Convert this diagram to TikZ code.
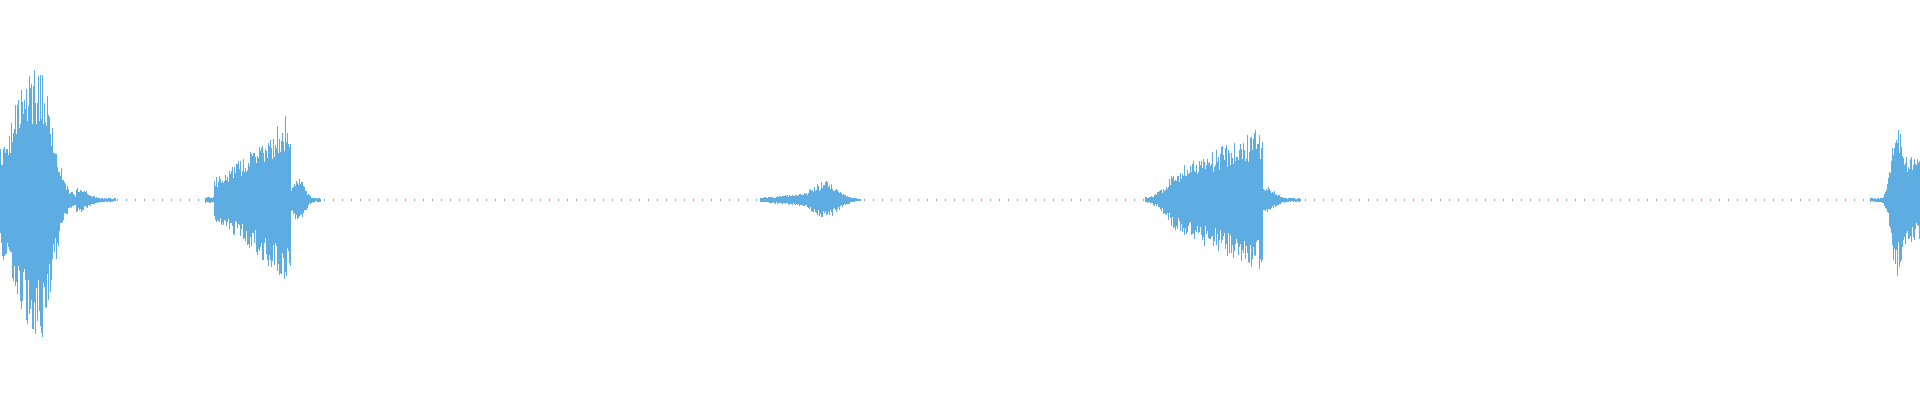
\documentclass[tikz,border=0pt]{standalone}
\definecolor{wave}{RGB}{93,173,226}
\begin{document}
\begin{tikzpicture}[x=0.5pt,y=0.5pt,wl/.style={draw=wave,line width=0.4pt}]
\useasboundingbox (0,0) rectangle (1920,400);
\pgfmathsetseed{7}
\newcommand\wline[2]{\pgfmathsetmacro\ra{#2*(0.55+0.45*rnd)}\pgfmathsetmacro\rb{#2*(0.55+0.45*rnd)}\draw[wl] (#1,200-\rb) -- (#1,200+\ra);}
% baseline noise
\foreach \x in {0,9,...,1920}{\draw[wl] (\x,199.3) -- (\x,200.7);}
% burst 1
\foreach \x in {0,...,75}{
  \pgfmathsetmacro\a{\x<40 ? 135*exp(-((\x-40)/40)^2)+4 : 135*exp(-((\x-40)/17)^2)+4}
  \wline{\x}{\a}}
\foreach \x in {76,...,115}{
  \pgfmathsetmacro\a{12*exp(-((\x-76)/14)^2)+2}
  \wline{\x}{\a}}
% burst 2
\foreach \x in {205,...,290}{
  \pgfmathsetmacro\a{\x<214 ? 3 : 22+68*(max(\x-214,0.01)/76)^1.2}
  \wline{\x}{\a}}
\foreach \x in {291,...,320}{
  \pgfmathsetmacro\a{24*exp(-((\x-298)/8)^2)+2}
  \wline{\x}{\a}}
% burst 3
\foreach \x in {760,...,860}{
  \pgfmathsetmacro\a{15*exp(-((\x-826)/16)^2)+5*exp(-((\x-800)/35)^2)+1}
  \wline{\x}{\a}}
% burst 4
\foreach \x in {1145,...,1262}{
  \pgfmathsetmacro\a{\x<1172 ? 3+25*((\x-1145)/27)^2 : 28+45*(max(\x-1172,0.01)/90)^0.9}
  \wline{\x}{\a}}
\foreach \x in {1263,...,1300}{
  \pgfmathsetmacro\a{12*exp(-((\x-1265)/12)^2)+2}
  \wline{\x}{\a}}
% burst 5
\foreach \x in {1870,...,1920}{
  \pgfmathsetmacro\a{\x<1896 ? 78*exp(-((\x-1896)/7)^2)+2 : 42+35*exp(-((\x-1896)/8)^2)}
  \wline{\x}{\a}}
\end{tikzpicture}
\end{document}
